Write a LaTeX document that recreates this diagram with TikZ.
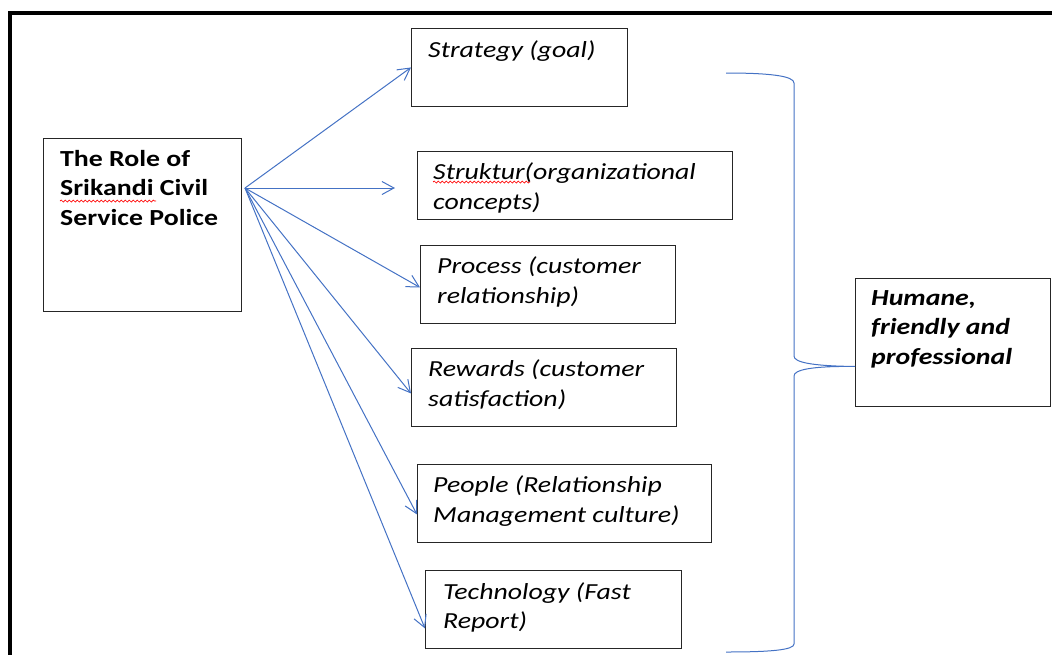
\documentclass[tikz,border=0pt]{standalone}
\usepackage{fontspec}
\setmainfont{Carlito}[FakeStretch=1.21]
\usetikzlibrary{arrows.meta}
\usetikzlibrary{decorations.pathmorphing}
\definecolor{wordblue}{HTML}{4472C4}

\begin{document}
\begin{tikzpicture}[x=1pt,y=-1pt,
    box/.style={draw=black!85,line width=0.9pt,anchor=north west,inner sep=0pt},
    txt/.style={anchor=north west,inner sep=0pt,align=left,font=\fontsize{23}{29.5}\selectfont\itshape},
    head/.style={txt,font=\fontsize{23}{29.5}\selectfont\bfseries},
    arrow/.style={wordblue,line width=1pt,-{Straight Barb[length=12pt,width=13pt]}},
    spell/.style={red,line width=0.7pt,decorate,decoration={snake,amplitude=1pt,segment length=4pt}}]

    \useasboundingbox (0,0) rectangle (1052,654);
    \clip (0,0) rectangle (1052,654);
    \draw[line width=4pt] (10,700) -- (10,13) -- (1100,13);

    \node[box,minimum width=198pt,minimum height=173pt] (role) at (43,138) {};
    \node[box,minimum width=216pt,minimum height=78pt]  (strategy) at (411,28) {};
    \node[box,minimum width=315pt,minimum height=68pt]  (struktur) at (417,151) {};
    \node[box,minimum width=255pt,minimum height=78pt]  (process) at (420,245) {};
    \node[box,minimum width=265pt,minimum height=78pt]  (rewards) at (411,348) {};
    \node[box,minimum width=294pt,minimum height=78pt]  (people) at (417,464) {};
    \node[box,minimum width=256pt,minimum height=78pt]  (tech) at (425,570) {};
    \node[box,minimum width=195pt,minimum height=128pt] (humane) at (855,278) {};

    \node[head] (roletext) at ([shift={(17pt,-12pt)}]role.north west) {The Role of\\Srikandi Civil\\Service Police};
    \node[txt] (strategytext) at ([shift={(17pt,-12pt)}]strategy.north west) {Strategy (goal)};
    \node[txt] (strukturtext) at ([shift={(16pt,-12pt)}]struktur.north west) {Struktur(organizational\\concepts)};
    \node[txt] (processtext) at ([shift={(17pt,-12pt)}]process.north west) {Process (customer\\relationship)};
    \node[txt] (rewardstext) at ([shift={(17pt,-12pt)}]rewards.north west) {Rewards (customer\\satisfaction)};
    \node[txt] (peopletext) at ([shift={(16pt,-12pt)}]people.north west) {People (Relationship\\Management culture)};
    \node[txt] (techtext) at ([shift={(18pt,-12pt)}]tech.north west) {Technology (Fast\\Report)};
    \node[txt,font=\fontsize{23}{29.5}\selectfont\bfseries\itshape] (humanetext) at ([shift={(16pt,-12pt)}]humane.north west) {Humane,\\friendly and\\professional};

    % spelling marks
    \draw[spell] (60,201) -- (156,201);
    \draw[spell] (433,182) -- (530,182);

    \coordinate (hub) at (245,188);
    \draw[arrow] (hub) -- (strategy.west);
    \draw[arrow,shorten >=22pt] (hub) -- (hub -| struktur.west);
    \draw[arrow] (hub) -- ([yshift=-3pt]process.west);
    \draw[arrow] (hub) -- ([yshift=-6pt]rewards.west);
    \draw[arrow] (hub) -- ([yshift=-11pt]people.west);
    \draw[arrow] (hub) -- ([yshift=-19pt]tech.west);

    % brace
    \coordinate (tip) at ([yshift=-24pt]humane.west);
    \draw[wordblue,line width=1pt] (726,73) .. controls (770,73) and (794,76) .. (794,83) -- (794,356)
      .. controls (794,362) and (810,366) .. (tip)
      .. controls (810,366) and (794,370) .. (794,376) -- (794,644)
      .. controls (794,650) and (770,652) .. (726,652);
\end{tikzpicture}
\end{document}
